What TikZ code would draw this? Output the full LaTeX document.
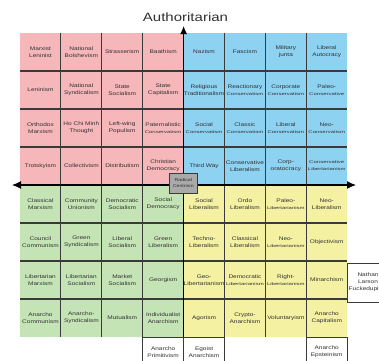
\documentclass[tikz,border=0pt]{standalone}
\usepackage{fontspec}
\setmainfont{Liberation Sans}[FakeStretch=1.25]
\newfontfamily\widefont{Liberation Sans}[FakeStretch=1.5]
\usetikzlibrary{arrows.meta}

\definecolor{authleft}{HTML}{F6B7BA}
\definecolor{authright}{HTML}{8DD2F1}
\definecolor{libleft}{HTML}{C5E4B6}
\definecolor{libright}{HTML}{F5F1A2}
\definecolor{gridline}{HTML}{3A3A3A}
\definecolor{centre}{HTML}{A9A9A9}
\definecolor{labeltext}{HTML}{303030}

\newcommand{\smalltxt}[1]{{\widefont\fontsize{4}{5}\selectfont #1}}

\tikzset{
  cell/.style={align=center, text=labeltext, font=\fontsize{5.2}{7}\selectfont, inner sep=0pt},
  extrabox/.style={cell, draw=gridline, line width=0.7pt, fill=white, minimum width=40.9pt, minimum height=#1},
  extrabox/.default=30pt
}

\begin{document}
\begin{tikzpicture}[x=1pt, y=-1pt]
\useasboundingbox (0,0) rectangle (379,360);

% quadrants
\fill[authleft] (20,33) rectangle (183.6,185);
\fill[authright] (183.6,33) rectangle (347.2,185);
\fill[libleft] (20,185) rectangle (183.6,337);
\fill[libright] (183.6,185) rectangle (347.2,337);

% grid
\foreach \k in {1,2,3,5,6,7} {
  \draw[gridline, line width=1.1pt] (20+40.9*\k,33) -- (20+40.9*\k,337);
  \draw[gridline, line width=1.1pt] (20,33+38*\k) -- (347.2,33+38*\k);
}

\node[cell] (title) at (185.5,17) {\fontsize{12}{14}\selectfont Authoritarian};

% boxes outside the grid
\node[extrabox] (prim) at (163.15,352) {Anarcho\\Primitivism};
\node[extrabox] (egoist) at (204.05,352) {Egoist\\Anarchism};
\node[extrabox] (epstein) at (326.75,352) {Anarcho\\Epsteinism};
\node[extrabox=39pt, anchor=west] (nathan) at (347.2,282.5) {Nathan\\Larson\\Fuckedupism};

% axes
\coordinate (west) at (12,185);
\coordinate (east) at (356,185);
\coordinate (north) at (183.6,26);
\coordinate (south) at (183.6,337);
\draw[line width=1.2pt, {Latex[length=9pt,width=8pt]}-{Latex[length=9pt,width=8pt]}] (west) -- (east);
\draw[line width=1.2pt, -{Latex[length=8pt,width=7pt]}] (south) -- (north);

% cells, one row at a time
\foreach \lbl [count=\col] in {{Marxist\\Leninist},{National\\Bolshevism},Strasserism,Baathism,Nazism,Fascism,{Military\\junta},{Liberal\\Autocracy}}
  \node[cell] (a\col) at (40.9*\col-0.45,52) {\lbl};
\foreach \lbl [count=\col] in {Leninism,{National\\Syndicalism},{State\\Socialism},{State\\Capitalism},{Religious\\Traditionalism},{Reactionary\\\smalltxt{Conservatism}},{Corporate\\\smalltxt{Conservatism}},{Paleo-\\\smalltxt{Conservative}}}
  \node[cell] (b\col) at (40.9*\col-0.45,90) {\lbl};
\foreach \lbl [count=\col] in {{Orthodox\\Marxism},{Ho Chi Minh\\Thought},{Left-wing\\Populism},{Paternalistic\\\smalltxt{Conservatism}},{Social\\\smalltxt{Conservatism}},{Classic\\\smalltxt{Conservatism}},{Liberal\\\smalltxt{Conservatism}},{Neo-\\\smalltxt{Conservatism}}}
  \node[cell] (c\col) at (40.9*\col-0.45,128) {\lbl};
\foreach \lbl [count=\col] in {Trotskyism,Collectivism,Distributism,{Christian\\Democracy},{Third Way},{Conservative\\Liberalism},{Corp-\\oratocracy},{\smalltxt{Conservative}\\\smalltxt{Libertarianism}}}
  \node[cell] (d\col) at (40.9*\col-0.45,166) {\lbl};
\foreach \lbl [count=\col] in {{Classical\\Marxism},{Community\\Unionism},{Democratic\\Socialism},{Social\\Democracy},{Social\\Liberalism},{Ordo\\Liberalism},{Paleo-\\\smalltxt{Libertarianism}},{Neo-\\Liberalism}}
  \node[cell] (e\col) at (40.9*\col-0.45,204) {\lbl};
\foreach \lbl [count=\col] in {{Council\\Communism},{Green\\Syndicalism},{Liberal\\Socialism},{Green\\Liberalism},{Techno-\\Liberalism},{Classical\\Liberalism},{Neo-\\\smalltxt{Libertarianism}},Objectivism}
  \node[cell] (f\col) at (40.9*\col-0.45,242) {\lbl};
\foreach \lbl [count=\col] in {{Libertarian\\Marxism},{Libertarian\\Socialism},{Market\\Socialism},Georgism,{Geo-\\Libertarianism},{Democratic\\\smalltxt{Libertarianism}},{Right-\\\smalltxt{Libertarianism}},Minarchism}
  \node[cell] (g\col) at (40.9*\col-0.45,280) {\lbl};
\foreach \lbl [count=\col] in {{Anarcho\\Communism},{Anarcho-\\Syndicalism},Mutualism,{Individualist\\Anarchism},Agorism,{Crypto-\\Anarchism},Voluntaryism,{Anarcho\\Capitalism}}
  \node[cell] (h\col) at (40.9*\col-0.45,318) {\lbl};

\node[cell, draw=gridline, line width=0.7pt, fill=centre, minimum width=28pt, minimum height=20pt, font=\fontsize{4.2}{5.2}\selectfont] (radical) at (183.3,183) {Radical\\Centrism};

\end{tikzpicture}
\end{document}
